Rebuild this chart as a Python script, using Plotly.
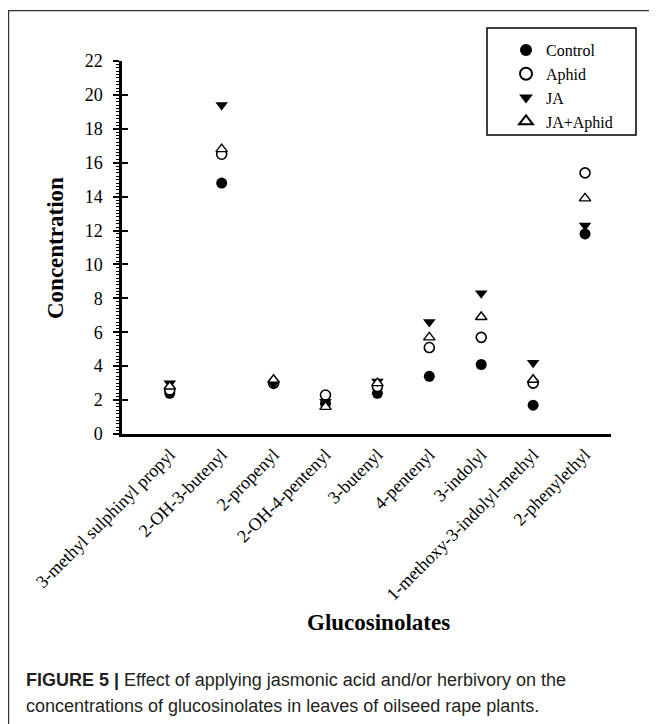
import plotly.graph_objects as go

categories = ["3-methyl sulphinyl propyl", "2-OH-3-butenyl", "2-propenyl",
              "2-OH-4-pentenyl", "3-butenyl", "4-pentenyl", "3-indolyl",
              "1-methoxy-3-indolyl-methyl", "2-phenylethyl"]
control = [2.4, 14.8, 3.0, 1.8, 2.4, 3.4, 4.1, 1.7, 11.8]
aphid = [2.6, 16.5, 3.0, 2.3, 2.8, 5.1, 5.7, 3.0, 15.4]
ja = [3.0, 19.4, 2.95, 1.9, 3.1, 6.6, 8.3, 4.2, 12.3]
ja_aphid = [2.8, 16.8, 3.2, 1.6, 3.0, 5.7, 6.9, 3.2, 13.9]
y_ticks = [0, 2, 4, 6, 8, 10, 12, 14, 16, 18, 20, 22]

OFF = 8  # page body margin
W, H = 657 - OFF, 724 - OFF
# plot-area edges in screen pixels
L, R, T, B = 122, 611, 61, 434
SERIF = "Liberation Serif"

def px(x):
    return (x - L) / (R - L)

def py(y):
    return (B - y) / (B - T)

xs = list(range(len(categories)))
fig = go.Figure()
series = [
    ("Control", control, dict(symbol="circle", size=11, color="black")),
    ("Aphid", aphid, dict(symbol="circle", size=10, color="white", line=dict(width=1.6, color="black"))),
    ("JA", ja, dict(symbol="triangle-down", size=11, color="black")),
    ("JA+Aphid", ja_aphid, dict(symbol="triangle-up", size=10, color="white", line=dict(width=1.4, color="black"))),
]
for name, vals, mk in series:
    fig.add_trace(go.Scatter(x=xs, y=vals, mode="markers", name=name, marker=mk))

fig.add_trace(go.Scatter(x=[None], y=[None], yaxis="y2", showlegend=False, hoverinfo="skip"))

fig.update_layout(
    width=W, height=H,
    margin=dict(l=L - OFF, r=W - (R - OFF), t=T - OFF, b=H - (B - OFF), autoexpand=False),
    paper_bgcolor="white", plot_bgcolor="white",
    showlegend=True,
    legend=dict(x=px(506), y=py(33), xanchor="left", yanchor="top",
                bgcolor="rgba(0,0,0,0)", borderwidth=0,
                font=dict(family=SERIF, size=16, color="black"),
                itemsizing="constant"),
    xaxis=dict(range=[-0.92, 8.5], tickmode="array", tickvals=xs, ticktext=categories,
               tickangle=-45, showgrid=False, zeroline=False, showline=True,
               linecolor="black", linewidth=3, ticks="",
               tickfont=dict(family=SERIF, size=18, color="black")),
    yaxis=dict(range=[0, 22], tickmode="array", tickvals=y_ticks,
               showgrid=False, zeroline=False, showline=True, linecolor="black",
               linewidth=2.5, ticks="outside", ticklen=6, tickwidth=2, tickcolor="black",
               ticklabelstandoff=7,
               minor=dict(dtick=0.2, ticks="outside", ticklen=3, tickwidth=1.2, tickcolor="black"),
               tickfont=dict(family=SERIF, size=18, color="black")),
    yaxis2=dict(range=[0, 22], overlaying="y", side="left", tickmode="array", tickvals=y_ticks,
                showticklabels=False, showgrid=False, zeroline=False, showline=False,
                ticks="inside", ticklen=6, tickwidth=2, tickcolor="black"),
)

shapes = [
    dict(type="rect", xref="paper", yref="paper", x0=px(8.6), x1=px(680), y0=py(10.6), y1=py(760),
         line=dict(color="#333333", width=1.2), fillcolor="rgba(0,0,0,0)", layer="below"),
    dict(type="rect", xref="paper", yref="paper", x0=px(487), x1=px(636), y0=py(28), y1=py(135),
         line=dict(color="black", width=1.5), fillcolor="rgba(0,0,0,0)"),
]
fig.update_layout(shapes=shapes)

annotations = [
    dict(text="<b>Concentration</b>", x=px(55), y=py(248), xref="paper", yref="paper",
         textangle=-90, showarrow=False, xanchor="center", yanchor="middle",
         font=dict(family=SERIF, size=23, color="black")),
    dict(text="<b>Glucosinolates</b>", x=px(378), y=py(622), xref="paper", yref="paper",
         showarrow=False, xanchor="center", yanchor="middle",
         font=dict(family=SERIF, size=23, color="black")),
    dict(text="<b>FIGURE 5 |</b> Effect of applying jasmonic acid and/or herbivory on the",
         x=px(24), y=py(680), xref="paper", yref="paper", showarrow=False,
         xanchor="left", yanchor="middle", align="left",
         font=dict(family="Liberation Sans", size=18, color="#231f20")),
    dict(text="concentrations of glucosinolates in leaves of oilseed rape plants.",
         x=px(24), y=py(706), xref="paper", yref="paper", showarrow=False,
         xanchor="left", yanchor="middle", align="left",
         font=dict(family="Liberation Sans", size=18, color="#231f20")),
]
fig.update_layout(annotations=annotations)

fig.write_html("out.html")
